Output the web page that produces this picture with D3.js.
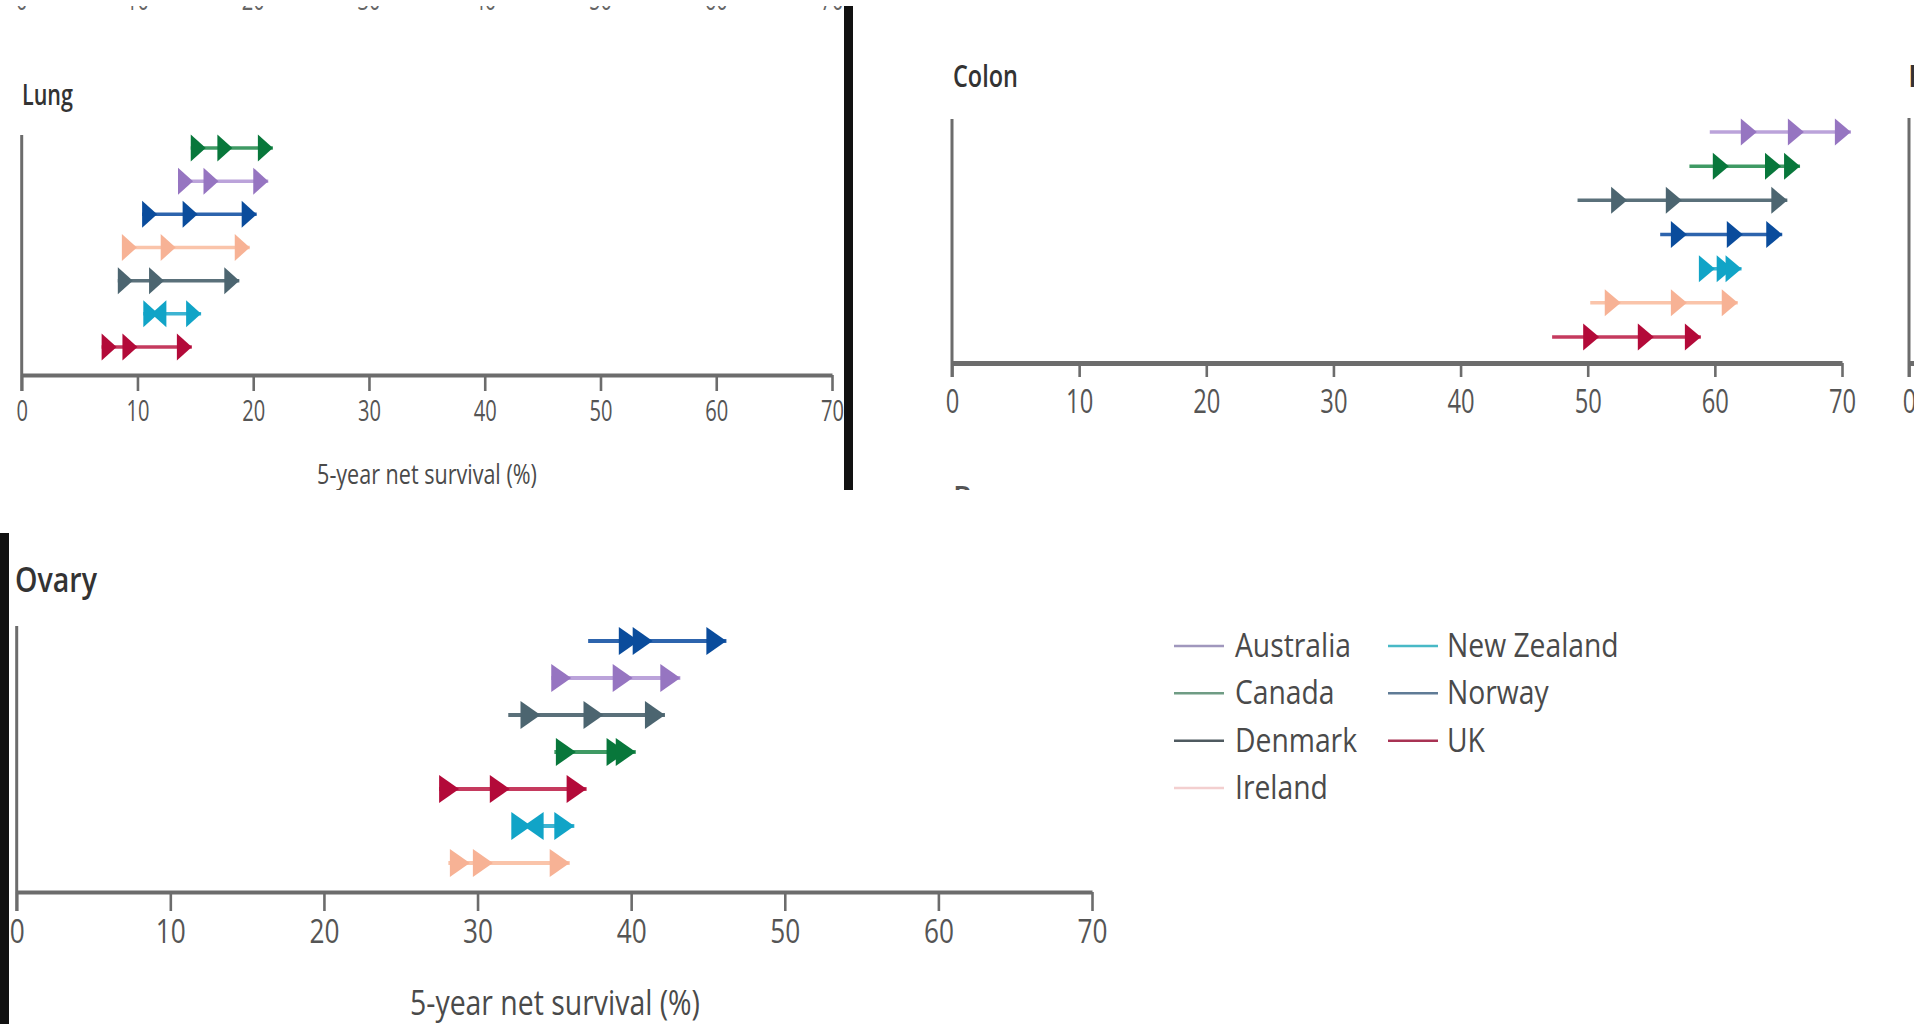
<!DOCTYPE html>
<html><head><meta charset="utf-8">
<script src="https://cdn.jsdelivr.net/npm/d3@7"></script>
<style>html,body{margin:0;padding:0;background:#fff;overflow:hidden}svg{display:block}text{font-family:"Open Sans",sans-serif}</style>
</head><body>
<svg id="chart" width="1921" height="1024"></svg>
<script>
// ---------- data ----------
const countries = ["Australia","Canada","Denmark","Ireland","New Zealand","Norway","UK"];
const periods = ["1995–99","2000–04","2005–09","2010–14"];
const xTicks = [0,10,20,30,40,50,60,70];
const axisTitle = "5-year net survival (%)";

// Lung: rows top to bottom, values = survival in the four periods
const lungRows = ["Canada","Australia","Norway","Ireland","Denmark","New Zealand","UK"];
const lungSurvival = [
  [14.6,15.9,18.2,21.7],
  [13.5,14.8,17.0,21.3],
  [10.4,11.7,15.2,20.3],
  [8.7,9.95,13.3,19.7],
  [8.3,9.6,12.3,18.8],
  [10.5,11.8,11.2,15.5],
  [6.9,8.2,10.0,14.7]
];
// Colon
const colonRows = ["Australia","Canada","Denmark","Norway","New Zealand","Ireland","UK"];
const colonSurvival = [
  [59.6,63.3,67.0,70.7],
  [58.0,61.1,65.2,66.7],
  [49.2,53.1,57.4,65.7],
  [55.7,57.8,62.2,65.3],
  [58.8,60.0,61.4,62.1],
  [50.2,52.6,57.8,61.8],
  [47.2,50.9,55.2,58.9]
];
// Ovary
const ovaryRows = ["Norway","Australia","Denmark","Canada","UK","New Zealand","Ireland"];
const ovarySurvival = [
  [37.2,40.5,41.4,46.2],
  [34.8,36.1,40.1,43.2],
  [32.0,34.1,38.2,42.2],
  [35.0,36.4,39.7,40.3],
  [27.5,28.8,32.1,37.1],
  [32.3,33.5,33.0,36.3],
  [28.1,29.5,31.0,36.0]
];
const legendCol1 = ["Australia","Canada","Denmark","Ireland"];
const legendCol2 = ["New Zealand","Norway","UK"];

// ---------- styles ----------
const markColor = d3.scaleOrdinal().domain(countries)
  .range(["#9675c1","#08773b","#4c6570","#f7b295","#11a4c7","#0a4c9c","#b30a39"]);
const lineColor = d3.scaleOrdinal().domain(countries)
  .range(["#bba3da","#3f9a64","#5a707a","#fac4aa","#3db4d2","#2d64ad","#c53a5e"]);
const legendColor = d3.scaleOrdinal().domain(countries)
  .range(["#a097bd","#6f9c84","#4f5a60","#f3cfcf","#48b9c6","#5f7b96","#a83253"]);

const svg = d3.select("#chart");
const defs = svg.append("defs");
const AX = "#6c6c6c", TXT = "#4a4a4a";

function fitWidth(sel, target){
  sel.each(function(){
    const t = d3.select(this);
    const w = this.getComputedTextLength();
    const f = target / w;
    const x = +t.attr("x") || 0;
    t.attr("transform", `translate(${x*(1-f)},0) scale(${f},1)`);
  });
}
function clip(id, x, y, w, h){
  defs.append("clipPath").attr("id", id).append("rect")
    .attr("x", x).attr("y", y).attr("width", w).attr("height", h);
  return svg.append("g").attr("clip-path", `url(#${id})`);
}
function tri(xTip, y, dir, w, h){
  return `M${xTip},${y}L${xTip-dir*w},${y-h/2}L${xTip-dir*w},${y+h/2}Z`;
}

function drawAxis(g, x, c){
  g.append("line").attr("x1", x(0)).attr("x2", x(0))
    .attr("y1", c.yTop).attr("y2", c.yAxis + c.tickLen)
    .attr("stroke", AX).attr("stroke-width", c.yAxisW);
  const ax = g.append("g").attr("transform", `translate(0,${c.yAxis})`)
    .call(d3.axisBottom(x).tickValues(xTicks).tickSize(c.tickLen)
      .tickPadding(c.tickPad).tickSizeOuter(0));
  ax.select(".domain").attr("stroke", AX).attr("stroke-width", c.axisW);
  ax.selectAll(".tick line").attr("stroke", AX).attr("stroke-width", 2.6);
  ax.selectAll(".tick text").attr("fill", "#555").style("font-size", c.fs + "px")
    .style("font-family", "Open Sans").attr("transform", `scale(${c.tickScale},1)`);
}

function drawPanel(c){
  const g = clip(c.id, c.clip[0], c.clip[1], c.clip[2], c.clip[3]);
  const x = d3.scaleLinear().domain([0,70]).range([c.x0, c.x1]);
  const y = d3.scalePoint().domain(c.rows).range([c.yFirst, c.yLast]);
  drawAxis(g, x, c);
  // title
  const tt = g.append("text").attr("x", c.titleX).attr("y", c.titleY).text(c.title)
    .attr("fill", "#333").style("font-size", c.titleFs + "px").style("font-weight", 600);
  fitWidth(tt, c.titleW);
  const at = g.append("text").attr("x", c.atX).attr("y", c.atY).text(axisTitle)
    .attr("text-anchor", "middle").attr("fill", TXT).style("font-size", c.atFs + "px");
  fitWidth(at, c.atW);
  // rows
  const rows = g.selectAll("g.row").data(c.rows.map((r,i)=>({country:r, v:c.values[i]})))
    .join("g").attr("class","row");
  rows.append("line")
    .attr("x1", d => x(d.v[0])).attr("x2", d => x(d.v[3]))
    .attr("y1", d => y(d.country)).attr("y2", d => y(d.country))
    .attr("stroke", d => lineColor(d.country)).attr("stroke-width", c.lineW);
  rows.selectAll("path").data(d => d.v.slice(1).map((v,i)=>({country:d.country, v, prev:d.v[i]})))
    .join("path")
    .attr("d", m => tri(x(m.v), y(m.country), m.v >= m.prev ? 1 : -1, c.triW, c.triH))
    .attr("fill", m => markColor(m.country));
  return g;
}

// ---- panel above lung (only bottoms of its tick labels visible) ----
{
  const g = clip("topclip", 0, 6, 844, 30);
  const x = d3.scaleLinear().domain([0,70]).range([21.7, 832]);
  g.selectAll("text").data(xTicks).join("text")
    .attr("x", d => x(d)).attr("y", 10).attr("text-anchor","middle")
    .attr("fill","#666").style("font-size","30px").text(d => d)
    .attr("transform", d => `translate(${x(d)*(1-0.67)},0) scale(0.67,1)`);
}

drawPanel({id:"lung", rows:lungRows, values:lungSurvival, clip:[0,6,844,484],
  x0:21.7, x1:832, yTop:135, yAxis:375, yFirst:148, yLast:347,
  triW:15, triH:27, lineW:3.5, axisW:4, yAxisW:3, tickLen:16, tickPad:9, fs:30, tickScale:0.67,
  title:"Lung", titleX:22, titleY:105, titleFs:28, titleW:51,
  atX:427, atY:484, atFs:28, atW:220});

const colonG = drawPanel({id:"colon", rows:colonRows, values:colonSurvival, clip:[853,0,1061,490],
  x0:952, x1:1842, yTop:119, yAxis:363, yFirst:132, yLast:337,
  triW:16, triH:27, lineW:3.5, axisW:5, yAxisW:3, tickLen:14, tickPad:13, fs:33, tickScale:0.72,
  title:"Colon", titleX:953, titleY:87, titleFs:30, titleW:65,
  atX:1397, atY:560, atFs:30, atW:240});

// partial neighbouring panels inside the colon crop
{
  const x = d3.scaleLinear().domain([0,70]).range([1909, 2799]);
  drawAxis(colonG, x, {yTop:118, yAxis:363, tickLen:14, tickPad:13, fs:33, tickScale:0.72, axisW:5, yAxisW:3});
  colonG.append("text").attr("x",1908).attr("y",87).text("Rectum").attr("fill","#333")
    .style("font-size","30px").style("font-weight",600);
  colonG.append("text").attr("x",953).attr("y",508).text("Pancreas").attr("fill","#555")
    .style("font-size","30px").style("font-weight",600);
  colonG.append("text").attr("x",1908).attr("y",515).text("Pancreas").attr("fill","#555")
    .style("font-size","30px").style("font-weight",600);
}

drawPanel({id:"ovary", rows:ovaryRows, values:ovarySurvival, clip:[10,533,1110,491],
  x0:16.7, x1:1092, yTop:626, yAxis:892, yFirst:641, yLast:863,
  triW:20, triH:28, lineW:4, axisW:4, yAxisW:3, tickLen:19, tickPad:9, fs:32, tickScale:0.82,
  title:"Ovary", titleX:15, titleY:592, titleFs:35, titleW:82,
  atX:555, atY:1015, atFs:34, atW:290});

// black separators
svg.append("rect").attr("x",844).attr("y",6).attr("width",9).attr("height",484).attr("fill","#111");
svg.append("rect").attr("x",0).attr("y",533).attr("width",9).attr("height",491).attr("fill","#111");

// legend
{
  const lg = svg.append("g");
  const rowY = d3.scalePoint().domain(d3.range(4)).range([646, 788]);
  const cols = [{items:legendCol1, lx:1174, tx:1235}, {items:legendCol2, lx:1388, tx:1447}];
  cols.forEach(col => {
    col.items.forEach((name,i) => {
      lg.append("line").attr("x1", col.lx).attr("x2", col.lx + 50)
        .attr("y1", rowY(i)).attr("y2", rowY(i))
        .attr("stroke", legendColor(name)).attr("stroke-width", 2.5);
      lg.append("text").attr("x", col.tx).attr("y", rowY(i) + 11).text(name)
        .attr("fill", TXT).style("font-size", "32px").attr("class","lgtext");
    });
  });
  const probe = lg.selectAll(".lgtext").filter(function(){return this.textContent==="Australia";}).node();
  const f = 116 / probe.getComputedTextLength();
  lg.selectAll(".lgtext").each(function(){
    const t = d3.select(this); const x = +t.attr("x");
    t.attr("transform", `translate(${x*(1-f)},0) scale(${f},1)`);
  });
}
</script>
</body></html>
